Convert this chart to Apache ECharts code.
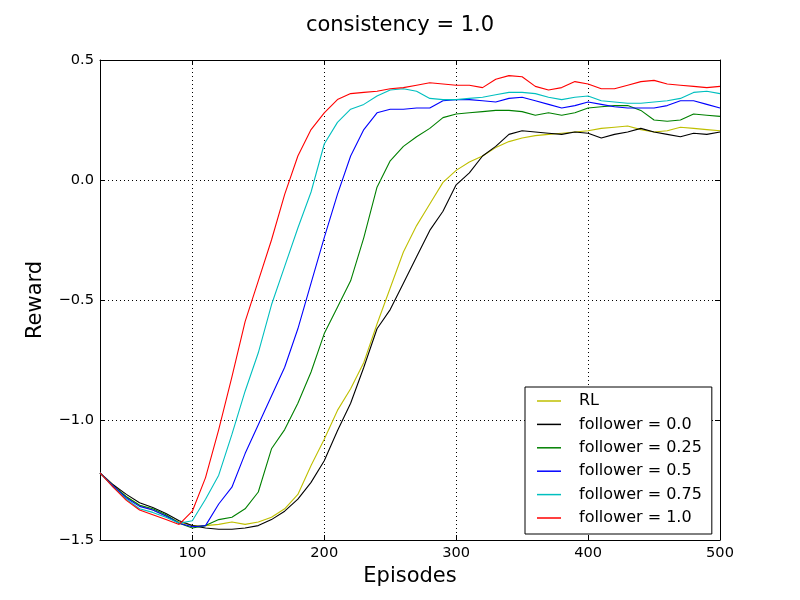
<!DOCTYPE html>
<html>
<head>
<meta charset="utf-8">
<title>consistency = 1.0</title>
<script src="https://cdn.jsdelivr.net/npm/echarts@6/dist/echarts.min.js"></script>
<style>
    html, body { margin: 0; padding: 0; background: #fff; }
    #main { width: 800px; height: 600px; }
</style>
</head>
<body>
<div id="main"></div>
<script>
var episodes = [];
for (let e = 30; e <= 500; e += 10) {
    episodes.push(e);
}
var xTicks = [100, 200, 300, 400, 500];

var rl = [-1.22, -1.27, -1.32, -1.355, -1.375, -1.40, -1.425, -1.44, -1.44, -1.435,
    -1.425, -1.435, -1.425, -1.405, -1.37, -1.31, -1.19, -1.08, -0.96, -0.87,
    -0.76, -0.60, -0.45, -0.30, -0.19, -0.10, -0.01, 0.04, 0.075, 0.10,
    0.135, 0.16, 0.175, 0.185, 0.19, 0.195, 0.20, 0.205, 0.215, 0.22,
    0.225, 0.21, 0.20, 0.205, 0.22, 0.215, 0.21, 0.205];
var f00 = [-1.22, -1.27, -1.31, -1.345, -1.365, -1.39, -1.42, -1.44, -1.45, -1.455,
    -1.455, -1.45, -1.44, -1.415, -1.38, -1.33, -1.26, -1.17, -1.045, -0.93,
    -0.78, -0.62, -0.54, -0.43, -0.32, -0.21, -0.13, -0.02, 0.03, 0.10,
    0.14, 0.19, 0.205, 0.20, 0.195, 0.19, 0.20, 0.195, 0.175, 0.19,
    0.20, 0.215, 0.20, 0.19, 0.18, 0.195, 0.19, 0.20];
var f025 = [-1.22, -1.275, -1.32, -1.355, -1.37, -1.395, -1.43, -1.45, -1.44, -1.415,
    -1.405, -1.37, -1.30, -1.12, -1.04, -0.93, -0.80, -0.64, -0.53, -0.42,
    -0.24, -0.03, 0.08, 0.14, 0.18, 0.215, 0.26, 0.275, 0.28, 0.285,
    0.29, 0.29, 0.285, 0.27, 0.28, 0.27, 0.28, 0.30, 0.305, 0.31,
    0.31, 0.29, 0.25, 0.245, 0.25, 0.275, 0.27, 0.265];
var f05 = [-1.22, -1.275, -1.325, -1.36, -1.375, -1.40, -1.43, -1.445, -1.44, -1.35,
    -1.28, -1.14, -1.02, -0.90, -0.78, -0.62, -0.43, -0.24, -0.06, 0.10,
    0.21, 0.28, 0.295, 0.295, 0.30, 0.30, 0.33, 0.335, 0.335, 0.33,
    0.325, 0.34, 0.345, 0.33, 0.315, 0.30, 0.31, 0.325, 0.315, 0.305,
    0.30, 0.30, 0.30, 0.31, 0.33, 0.33, 0.315, 0.30];
var f075 = [-1.22, -1.28, -1.33, -1.37, -1.385, -1.405, -1.43, -1.42, -1.33, -1.23,
    -1.06, -0.88, -0.72, -0.52, -0.36, -0.20, -0.05, 0.15, 0.24, 0.295,
    0.315, 0.35, 0.375, 0.38, 0.37, 0.34, 0.335, 0.335, 0.34, 0.345,
    0.355, 0.365, 0.365, 0.36, 0.345, 0.335, 0.345, 0.35, 0.33, 0.325,
    0.32, 0.32, 0.325, 0.33, 0.34, 0.365, 0.37, 0.36];
var f10 = [-1.22, -1.28, -1.335, -1.375, -1.395, -1.415, -1.435, -1.38, -1.24, -1.04,
    -0.82, -0.59, -0.42, -0.25, -0.06, 0.10, 0.21, 0.28, 0.335, 0.36,
    0.365, 0.37, 0.38, 0.385, 0.395, 0.405, 0.40, 0.395, 0.395, 0.385,
    0.42, 0.435, 0.43, 0.39, 0.375, 0.385, 0.41, 0.40, 0.38, 0.38,
    0.395, 0.41, 0.415, 0.40, 0.395, 0.39, 0.385, 0.39];

var names = ['RL', 'follower = 0.0', 'follower = 0.25', 'follower = 0.5', 'follower = 0.75', 'follower = 1.0'];
var colors = ['#bfbf00', '#000000', '#008000', '#0000ff', '#00bfbf', '#ff0000'];
var values = [rl, f00, f025, f05, f075, f10];

var font = 'DejaVu Sans';

function pairs(ys) {
    return episodes.map(function (x, i) { return [x, ys[i]]; });
}

function minus(v) {
    return v.toFixed(1).replace('-', '\u2212');
}

var myChart = echarts.init(document.getElementById('main'));

var option = {
    animation: false,
    backgroundColor: '#fff',
    color: colors,
    title: {
        text: 'consistency = 1.0',
        left: 'center',
        top: 10,
        textStyle: {
            fontFamily: font,
            fontSize: 21,
            fontWeight: 'normal',
            color: '#000'
        }
    },
    legend: {
        orient: 'vertical',
        left: 525,
        top: 387,
        icon: 'rect',
        itemWidth: 24,
        itemHeight: 1.5,
        itemGap: 7.4,
        padding: [6, 10, 8, 12],
        borderColor: '#000',
        borderWidth: 1,
        backgroundColor: '#fff',
        data: names,
        textStyle: {
            fontFamily: font,
            fontSize: 16,
            lineHeight: 16,
            color: '#000',
            padding: [0, 0, 0, 13]
        }
    },
    grid: {
        left: 100,
        right: 80,
        top: 60,
        bottom: 60
    },
    xAxis: [{
        type: 'value',
        min: 30,
        max: 500,
        name: 'Episodes',
        nameLocation: 'middle',
        nameGap: 25,
        nameTextStyle: {
            fontFamily: font,
            fontSize: 21,
            color: '#000'
        },
        axisLine: {
            onZero: false,
            lineStyle: { color: '#000', width: 1 }
        },
        axisTick: {
            inside: true,
            length: 5,
            customValues: xTicks,
            lineStyle: { color: '#000' }
        },
        axisLabel: {
            margin: 6,
            customValues: xTicks,
            fontFamily: font,
            fontSize: 14.6,
            color: '#000'
        },
        splitLine: {
            show: true,
            lineStyle: { color: '#000', type: [1, 3], width: 1 }
        }
    }, {
        type: 'value',
        position: 'top',
        min: 30,
        max: 500,
        axisLine: {
            onZero: false,
            lineStyle: { color: '#000', width: 1 }
        },
        axisTick: {
            inside: true,
            length: 5,
            customValues: xTicks,
            lineStyle: { color: '#000' }
        },
        axisLabel: { show: false },
        splitLine: { show: false }
    }],
    yAxis: [{
        type: 'value',
        min: -1.5,
        max: 0.5,
        interval: 0.5,
        name: 'Reward',
        nameLocation: 'middle',
        nameGap: 54,
        nameTextStyle: {
            fontFamily: font,
            fontSize: 21,
            color: '#000'
        },
        axisLine: {
            show: true,
            onZero: false,
            lineStyle: { color: '#000', width: 1 }
        },
        axisTick: {
            show: true,
            inside: true,
            length: 5,
            lineStyle: { color: '#000' }
        },
        axisLabel: {
            margin: 6,
            fontFamily: font,
            fontSize: 14.6,
            color: '#000',
            formatter: minus
        },
        splitLine: {
            show: true,
            lineStyle: { color: '#000', type: [1, 3], width: 1 }
        }
    }, {
        type: 'value',
        position: 'right',
        min: -1.5,
        max: 0.5,
        interval: 0.5,
        axisLine: {
            show: true,
            onZero: false,
            lineStyle: { color: '#000', width: 1 }
        },
        axisTick: {
            show: true,
            inside: true,
            length: 5,
            lineStyle: { color: '#000' }
        },
        axisLabel: { show: false },
        splitLine: { show: false }
    }],
    series: values.map(function (ys, i) {
        return {
            name: names[i],
            type: 'line',
            data: pairs(ys),
            showSymbol: false,
            symbol: 'none',
            lineStyle: { width: 1.1, color: colors[i] },
            itemStyle: { color: colors[i] },
            z: 2 + i
        };
    })
};

myChart.setOption(option);
</script>
</body>
</html>
